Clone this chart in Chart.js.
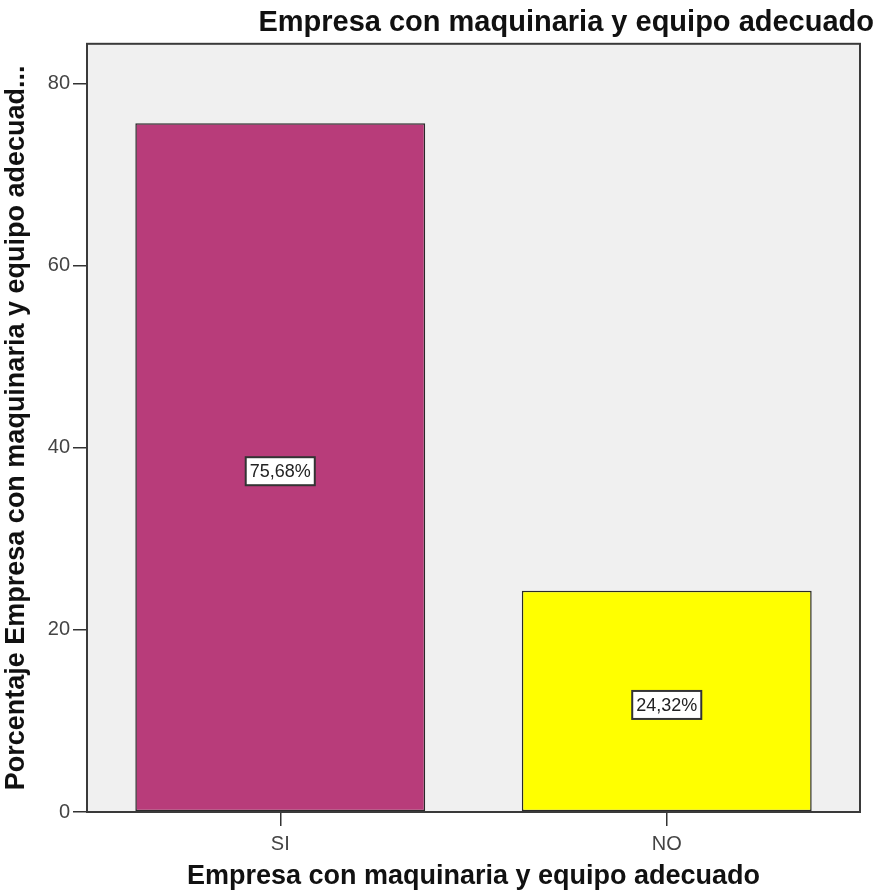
<!DOCTYPE html>
<html>
<head>
<meta charset="utf-8">
<script src="https://cdn.jsdelivr.net/npm/chart.js@4.4.0/dist/chart.umd.min.js"></script>
<style>
  html, body { margin: 0; padding: 0; background: #fff; }
  #wrap { width: 890px; height: 893px; }
</style>
</head>
<body>
<div id="wrap"><canvas id="chart1"></canvas></div>
<script>
const categories = ['SI', 'NO'];
const percentages = [75.68, 24.32];
const barLabels = ['75,68%', '24,32%'];
const barColors = ['#b83c7a', '#ffff00'];
const yTicks = [0, 20, 40, 60, 80];

const chartTitle = 'Empresa con maquinaria y equipo adecuado';
const xTitle = 'Empresa con maquinaria y equipo adecuado';
const yTitle = 'Porcentaje Empresa con maquinaria y equipo adecuad...';

const FONT = '"Liberation Sans", Arial, sans-serif';

// gray plot background + frame like the SPSS output
const plotFrame = {
  id: 'plotFrame',
  beforeDraw(chart) {
    const { ctx, chartArea: a } = chart;
    ctx.save();
    ctx.fillStyle = '#f0f0f0';
    ctx.fillRect(a.left, a.top, a.right - a.left, a.bottom - a.top);
    ctx.restore();
  },
  afterDatasetsDraw(chart) {
    const { ctx, chartArea: a } = chart;
    ctx.save();
    ctx.strokeStyle = '#3a3a3a';
    ctx.lineWidth = 2;
    ctx.strokeRect(a.left, a.top, a.right - a.left, a.bottom - a.top);
    ctx.restore();
  }
};

// boxed value labels in the middle of each bar
const boxLabels = {
  id: 'boxLabels',
  afterDatasetsDraw(chart) {
    const ctx = chart.ctx;
    const meta = chart.getDatasetMeta(0);
    ctx.save();
    ctx.font = '18px ' + FONT;
    ctx.textAlign = 'center';
    ctx.textBaseline = 'middle';
    meta.data.forEach((bar, i) => {
      const txt = barLabels[i];
      const cx = bar.x;
      const cy = (bar.y + bar.base) / 2 + 4;
      const w = ctx.measureText(txt).width + 8;
      const h = 28;
      ctx.fillStyle = '#ffffff';
      ctx.fillRect(cx - w / 2, cy - h / 2, w, h);
      ctx.strokeStyle = '#333';
      ctx.lineWidth = 2;
      ctx.strokeRect(cx - w / 2, cy - h / 2, w, h);
      ctx.fillStyle = '#222';
      ctx.fillText(txt, cx, cy + 1);
    });
    ctx.restore();
  }
};

const ctx = document.getElementById('chart1');
const myChart = new Chart(ctx, {
  type: 'bar',
  data: {
    labels: categories,
    datasets: [{
      data: percentages,
      backgroundColor: barColors,
      borderColor: '#2a2a2a',
      borderWidth: 1.5,
      borderSkipped: false,
      barPercentage: 1,
      categoryPercentage: 0.75
    }]
  },
  options: {
    responsive: true,
    maintainAspectRatio: false,
    animation: false,
    layout: { padding: { left: 0, right: 16, top: 0, bottom: 0 } },
    plugins: {
      legend: { display: false },
      tooltip: { enabled: false },
      title: {
        display: true,
        text: chartTitle,
        align: 'end',
        color: '#111',
        font: { family: FONT, size: 29, weight: 'bold' },
        padding: { top: 6, bottom: 3 }
      }
    },
    scales: {
      x: {
        offset: true,
        grid: { offset: false, drawOnChartArea: false, tickLength: 14, color: '#333', lineWidth: 1.5 },
        border: { display: false },
        ticks: {
          color: '#444',
          padding: 6,
          font: { family: FONT, size: 20 }
        },
        title: {
          display: true,
          text: xTitle,
          color: '#111',
          padding: { top: 3, bottom: 0 },
          font: { family: FONT, size: 27, weight: 'bold' }
        },
        afterFit(scale) { scale.height = 81; }
      },
      y: {
        min: 0,
        max: 84.4,
        afterBuildTicks(scale) { scale.ticks = yTicks.map(v => ({ value: v })); },
        grid: { drawOnChartArea: false, tickLength: 14, color: '#333', lineWidth: 1.5 },
        border: { display: false },
        ticks: {
          color: '#444',
          padding: 3,
          font: { family: FONT, size: 20 }
        },
        title: {
          display: true,
          text: yTitle,
          color: '#111',
          padding: { top: 0, bottom: 4 },
          font: { family: FONT, size: 27, weight: 'bold' }
        },
        afterFit(scale) { scale.width = 87; }
      },
      // empty right-hand axis, only to leave room so the title overhangs the frame
      yRight: {
        position: 'right',
        display: true,
        grid: { display: false },
        ticks: { display: false },
        border: { display: false },
        afterFit(scale) { scale.width = 14; }
      }
    }
  },
  plugins: [plotFrame, boxLabels]
});
</script>
</body>
</html>
